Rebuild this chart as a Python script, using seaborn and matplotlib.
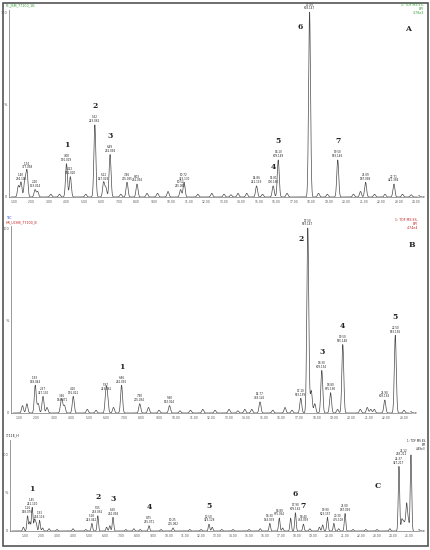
import numpy as np
import pandas as pd
import matplotlib
matplotlib.use("Agg")
import matplotlib.pyplot as plt
import seaborn as sns
from matplotlib.patches import Rectangle

# ---------------- data ----------------
# Panel A
a_rt = [1.25, 1.40, 1.62, 1.74, 2.20, 2.35, 3.10, 3.60, 4.00, 4.22, 5.10, 5.62, 6.12, 6.25, 6.49,
        7.10, 7.46, 8.03, 8.60, 9.20, 9.80, 10.52, 10.72, 11.50, 12.30, 13.00, 13.40, 13.80,
        14.30, 14.86, 15.20, 15.81, 16.10, 16.60, 17.89, 18.40, 18.90, 19.50, 20.40, 20.80,
        21.09, 21.60, 22.20, 22.71, 23.20, 23.70]
a_int = [6, 8, 9, 14, 4, 3, 1.5, 1.5, 18, 11, 1.5, 39, 8, 5, 23,
         1.5, 8, 7, 2, 2, 3, 4, 8, 1.5, 2, 1.5, 1.2, 2,
         2, 6, 1.5, 6, 20, 2, 100, 2, 1.5, 20, 1.5, 3,
         8, 1.5, 1.5, 7, 1.5, 1.2]
a_mz = ['', '294.106', '', '377.098', '133.014', '', '', '', '191.019', '191.020', '', '243.062',
        '147.029', '', '262.094', '', '205.035', '261.092', '', '', '', '255.062', '323.130',
        '', '', '', '', '', '', '241.119', '', '700.160', '609.149', '', '608.147', '', '',
        '593.146', '', '', '187.098', '', '', '441.384', '', '']
a_num = ['', '', '', '', '', '', '', '', '1', '', '', '2', '', '', '3', '', '', '', '', '', '',
         '', '', '', '', '', '', '', '', '', '', '4', '5', '', '6', '', '', '7', '', '', '',
         '', '', '', '', '']

# Panel B
b_rt = [1.20, 1.45, 1.93, 2.10, 2.37, 2.60, 3.40, 3.46, 3.60, 4.10, 4.90, 5.40, 5.97, 6.05,
        6.40, 6.86, 7.90, 8.40, 9.00, 9.60, 10.20, 10.80, 11.50, 12.20, 13.00, 13.50, 13.90,
        14.30, 14.77, 15.50, 16.20, 16.60, 17.10, 17.50, 17.70, 17.90, 18.30, 18.80, 19.20,
        19.50, 20.50, 20.90, 21.10, 21.30, 21.90, 22.50, 23.00]
b_int = [4, 5, 15, 5, 9, 3, 4, 5, 4, 9, 2, 1.5, 11, 8,
         3, 15, 5, 3, 1.5, 4, 1.2, 1.5, 2, 1.5, 2, 1.2, 2,
         2, 6, 1.5, 3, 1.5, 8, 100, 12, 5, 23, 11, 2,
         37, 2, 3, 2, 2, 7, 42, 1.5]
b_mz = ['', '', '169.044', '', '347.100', '', '', '163.071', '', '191.021', '', '', '243.061',
        '', '', '262.091', '205.034', '', '', '153.024', '', '', '', '', '', '', '', '',
        '469.145', '', '', '', '563.159', '593.147', '', '', '609.154', '635.160', '',
        '595.148', '', '', '', '', '603.163', '593.156', '']
b_num = ['', '', '', '', '', '', '', '', '', '', '', '', '', '',
         '', '1', '', '', '', '', '', '', '', '', '', '', '',
         '', '', '', '', '', '', '2', '', '', '3', '', '',
         '4', '', '', '', '', '', '5', '']

# Panel C
c_rt = [0.90, 1.16, 1.30, 1.45, 1.60, 1.70, 1.91, 2.10, 2.50, 3.00, 4.00, 4.80, 5.18, 5.55,
        6.10, 6.30, 6.50, 7.30, 7.80, 8.20, 8.75, 9.50, 10.25, 11.30, 12.00, 12.50, 12.70,
        13.30, 14.00, 15.00, 15.70, 16.30, 16.89, 17.10, 17.60, 17.90, 18.40, 18.80, 19.40,
        19.60, 19.90, 20.30, 20.60, 21.00, 21.50, 22.30, 23.00, 23.80, 24.37, 24.55, 24.65,
        24.75, 24.85, 24.95, 25.12]
c_int = [5, 20, 12, 31, 15, 10, 14, 4, 3, 2, 3, 2, 10, 20,
         5, 7, 18, 2, 3, 2, 7, 2, 4, 2, 2, 9, 5,
         2, 2, 2, 3, 10, 17, 4, 17, 24, 9, 3, 5,
         8, 18, 10, 3, 23, 2, 2, 2, 3, 85, 15, 12,
         10, 35, 15, 100]
c_mz = ['', '158.076', '', '241.110', '', '', '264.116', '', '', '', '', '', '243.042', '263.062',
        '', '', '262.094', '', '', '', '215.071', '', '205.062', '', '', '323.128', '',
        '', '', '', '', '163.039', '675.054', '', '', '609.162', '463.093', '', '',
        '', '623.157', '435.103', '', '187.096', '', '', '', '', '327.217', '', '',
        '', '', '', '283.211']
c_num = ['', '', '', '1', '', '', '', '', '', '', '', '', '', '2',
         '', '', '3', '', '', '', '4', '', '', '', '', '5', '',
         '', '', '', '', '', '', '', '', '6', '7', '', '',
         '', '', '', '', '', '', '', '', '', '', '', '',
         '', '', '', '']

# ---------------- style ----------------
sns.set_style("white")
plt.rcParams['font.family'] = ['DejaVu Sans']

W, H = 430, 550
fig = plt.figure(figsize=(W / 100, H / 100), dpi=100)


def px_axes(x0, x1, y0, y1):
    return fig.add_axes([x0 / W, 1 - y1 / H, (x1 - x0) / W, (y1 - y0) / H])


def trace(rt, it, t0, t1, sigma):
    t = np.linspace(t0, t1, 6000)
    y = np.zeros_like(t)
    for r, h in zip(rt, it):
        y += h * np.exp(-0.5 * ((t - r) / sigma) ** 2)
    return pd.DataFrame({'t': t, 'i': y})


def panel(ax, rt, it, mz, num, xlim, ylim, t_end, sigma, num_special=None, lab_special=None):
    num_special = num_special or {}
    lab_special = lab_special or {}
    df = trace(rt, it, xlim[0] + 0.12, t_end, sigma)
    sns.lineplot(data=df, x='t', y='i', ax=ax, color='#4a4a4a', linewidth=0.5,
                 estimator=None, sort=False)
    ax.set_xlim(*xlim)
    ax.set_ylim(*ylim)
    ticks = np.arange(1, int(np.floor(t_end)) + 1)
    ax.set_xticks(ticks)
    ax.set_xticklabels([f"{v:.2f}" for v in ticks], fontsize=2.2, color='#333333')
    ax.set_yticks([0, 50, 100])
    ax.set_yticklabels(['0', '%', '100'], fontsize=2.5, color='#333333')
    ax.tick_params(axis='x', length=1.2, width=0.3, pad=0.8, colors='#555555')
    ax.tick_params(axis='y', length=1.0, width=0.3, pad=0.5, colors='#555555')
    for s in ['top', 'right']:
        ax.spines[s].set_visible(False)
    ax.spines['left'].set_color('#888888')
    ax.spines['left'].set_linewidth(0.6)
    ax.spines['bottom'].set_color('#555555')
    ax.spines['bottom'].set_linewidth(0.4)
    ax.set_xlabel('')
    ax.set_ylabel('')
    ax.text(1.0, 0.0, 'Time', transform=ax.transAxes, fontsize=2.3, ha='left',
            va='center', color='#333333', clip_on=False)
    ax.set_facecolor('none')
    for r, h, m, n in zip(rt, it, mz, num):
        if m:
            off, ha = lab_special.get(m, ((0, 1.2), 'center'))
            ax.annotate(f"{r:.2f}\n{m}", (r, h), xytext=off, textcoords='offset points',
                        ha=ha, va='bottom', fontsize=2.0, linespacing=0.95,
                        color='#222222')
        if n:
            off = num_special.get(n, (0, 10.5))
            ax.annotate(n, (r, h), xytext=off, textcoords='offset points',
                        ha='center', va='bottom', fontsize=5.5, fontweight='bold',
                        family='DejaVu Serif', color='#222222')


# Panel A
axA = px_axes(9, 418, 10, 197)
panel(axA, a_rt, a_int, a_mz, a_num, (0.714, 24.086), (0, 101.1), 24.05, 0.055,
      num_special={'6': (-6.5, -14)})
axA.text(0.975, 0.9, 'A', transform=axA.transAxes, fontsize=5.5, fontweight='bold',
         family='DejaVu Serif', ha='center', va='center', color='#222222')

# Panel B
axB = px_axes(11, 410, 226, 413)
panel(axB, b_rt, b_int, b_mz, b_num, (0.543, 23.34), (0, 101.1), 23.3, 0.055,
      num_special={'2': (-5, -11)})
axB.text(1.005, 0.9, 'B', transform=axB.transAxes, fontsize=5.5, fontweight='bold',
         family='DejaVu Serif', ha='center', va='center', color='#222222')

# Panel C
axC = px_axes(10, 418, 440, 531)
panel(axC, c_rt, c_int, c_mz, c_num, (0.0625, 25.56), (0, 119.7), 25.3, 0.045,
      lab_special={'283.211': ((-2.5, -1.0), 'right'),
                   '435.103': ((3.0, 1.2), 'center'),
                   '623.157': ((-1.5, 1.2), 'center')})
axC.text(0.9, 0.5, 'C', transform=axC.transAxes, fontsize=5.5, fontweight='bold',
         family='DejaVu Serif', ha='center', va='center', color='#222222')

# header texts
fig.text(6 / W, 1 - 6 / H, 'F1_JSM_77100_1B', fontsize=2.3, color='#2f9e2f', va='center')
fig.text(424 / W, 1 - 9 / H, '1: TOF MS ES-\nBPI\n3.78e3', fontsize=2.3, color='#2f9e2f',
         ha='right', va='center', linespacing=0.95)
fig.text(6 / W, 1 - 218 / H, 'TIC', fontsize=2.5, color='#2040d0', va='center')
fig.text(6 / W, 1 - 222 / H, 'HR_UCHB_77100_B', fontsize=2.3, color='#c02020', va='center')
fig.text(418 / W, 1 - 224 / H, '1: TOF MS ES-\nBPI\n4.74e4', fontsize=2.3, color='#c02020',
         ha='right', va='center', linespacing=0.95)
fig.text(6 / W, 1 - 435 / H, '1*11E_H', fontsize=2.3, color='#222222', va='center')
fig.text(426 / W, 1 - 445 / H, '1: TOF MS ES-\nBPI\n4.49e3', fontsize=2.0, color='#222222',
         ha='right', va='center', linespacing=0.95)

# outer frame
fig.add_artist(Rectangle((3 / W, 1 - 546 / H), 425 / W, 543 / H, transform=fig.transFigure,
                         fill=False, edgecolor='#555555', linewidth=1.2))

fig.savefig('out.png', dpi=100)
